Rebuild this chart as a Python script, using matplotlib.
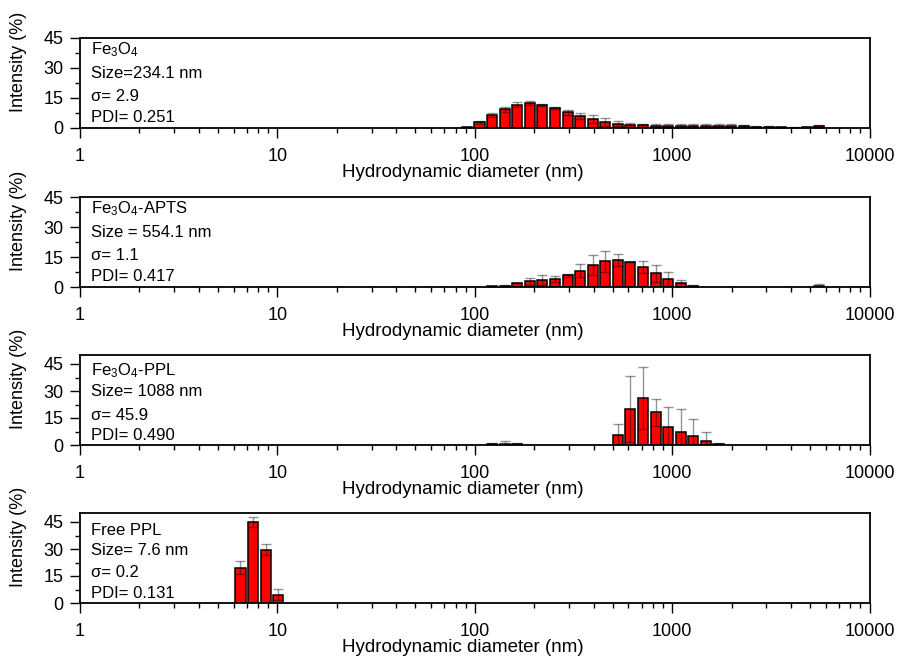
import numpy as np
import matplotlib
matplotlib.use("Agg")
import matplotlib.pyplot as plt
from matplotlib.ticker import LogLocator, NullFormatter, MultipleLocator

plt.rcParams['font.family'] = ['Liberation Sans', 'DejaVu Sans']
plt.rcParams['mathtext.fontset'] = 'custom'
plt.rcParams['mathtext.rm'] = 'Liberation Sans'
plt.rcParams['mathtext.it'] = 'Liberation Sans:italic'

# size classes (nm), with intensity (%) and error
fe3o4_size = [91.28, 105.7, 122.4, 141.8, 164.2, 190.1, 220.2, 255.0, 295.3, 342.0,
              396.1, 458.7, 531.2, 615.1, 712.4, 825.0, 955.4, 1106, 1281, 1484,
              1718, 1990, 2305, 2669, 3091, 3580, 4145, 4801, 5560]
fe3o4_int = [0.3, 2.9, 6.3, 9.3, 11.7, 12.3, 11.5, 10.0, 7.8, 6.0,
             4.3, 2.8, 2.2, 1.5, 1.3, 1.1, 1.0, 1.0, 1.0, 1.0,
             1.0, 1.0, 0.8, 0.6, 0.5, 0.3, 0.2, 0.4, 0.8]
fe3o4_err = [0.2, 0.8, 1.0, 1.4, 1.1, 1.0, 0.7, 0.7, 1.4, 1.7,
             2.0, 2.0, 1.3, 1.2, 0.9, 0.9, 0.8, 0.8, 0.8, 0.8,
             0.8, 0.8, 0.8, 0.6, 0.4, 0.2, 0.1, 0.1, 0.8]

apts_size = [122.4, 141.8, 164.2, 190.1, 220.2, 255.0, 295.3, 342.0, 396.1, 458.7,
             531.2, 615.1, 712.4, 825.0, 955.4, 1106, 1281, 5560]
apts_int = [0.3, 0.5, 2.0, 2.8, 3.3, 4.2, 5.8, 8.2, 11.0, 12.8,
            13.7, 12.5, 10.0, 6.8, 4.0, 1.8, 0.5, 0.3]
apts_err = [0.3, 0.4, 0.2, 1.9, 2.5, 1.5, 0.9, 3.3, 5.0, 5.2,
            3.0, 0.2, 2.8, 4.4, 3.7, 1.9, 0.3, 1.2]

ppl_size = [122.4, 141.8, 164.2, 531.2, 615.1, 712.4, 825.0, 955.4, 1106, 1281,
            1484, 1718]
ppl_int = [0.4, 0.7, 0.4, 5.6, 20.2, 26.0, 18.3, 10.1, 7.3, 5.2,
           2.4, 0.5]
ppl_err = [0.9, 1.7, 0.9, 6.2, 18.4, 17.1, 7.5, 10.8, 12.5, 9.3,
           5.1, 0.8]

free_size = [6.503, 7.531, 8.721, 10.10]
free_int = [19.7, 45.0, 29.6, 4.7]
free_err = [3.4, 3.0, 3.2, 3.3]

panel_text = [
    [r'Fe$_3$O$_4$', 'Size=234.1 nm', 'σ= 2.9', 'PDI= 0.251'],
    [r'Fe$_3$O$_4$-APTS', 'Size = 554.1 nm', 'σ= 1.1', 'PDI= 0.417'],
    [r'Fe$_3$O$_4$-PPL', 'Size= 1088 nm', 'σ= 45.9', 'PDI= 0.490'],
    ['Free PPL', 'Size= 7.6 nm', 'σ= 0.2', 'PDI= 0.131'],
]
y_max = [45, 45, 50, 50]
x_ticks = [1, 10, 100, 1000, 10000]
x_ticklabels = ['1', '10', '100', '1000', '10000']
y_ticks = [0, 15, 30, 45]

data = [(fe3o4_size, fe3o4_int, fe3o4_err),
        (apts_size, apts_int, apts_err),
        (ppl_size, ppl_int, ppl_err),
        (free_size, free_int, free_err)]

fig = plt.figure(figsize=(8.98, 6.58), dpi=100)
W, H = 898.0, 658.0
bottoms_px = [128, 287, 445, 603]
text_y = [[0.87, 0.61, 0.35, 0.12], [0.87, 0.61, 0.35, 0.12],
          [0.83, 0.59, 0.33, 0.10], [0.81, 0.58, 0.34, 0.10]]

half = 10 ** (0.0637 * 0.4)  # bar half-width in log space

for i, (size, inten, err) in enumerate(data):
    ax = fig.add_axes([80 / W, 1 - bottoms_px[i] / H, 789.5 / W, 90 / H])
    size = np.array(size)
    left = size / half
    right = size * half
    ax.bar(left, inten, width=right - left, align='edge', color='#ff0000',
           edgecolor='black', linewidth=1.1, zorder=2)
    eb = ax.errorbar(size, inten, yerr=err, fmt='none', ecolor=(0, 0, 0, 0.42),
                     elinewidth=1.0, capsize=3.8, capthick=1.0, zorder=3)
    for cl in eb[1]:
        cl.set_color((0, 0, 0, 0.7))

    ax.set_xscale('log')
    ax.set_xlim(1, 10000)
    ax.set_ylim(0, y_max[i])
    ax.set_xticks(x_ticks)
    ax.set_xticklabels(x_ticklabels)
    ax.xaxis.set_minor_locator(LogLocator(base=10, subs=np.arange(2, 10)))
    ax.xaxis.set_minor_formatter(NullFormatter())
    ax.set_yticks(y_ticks)
    ax.yaxis.set_minor_locator(MultipleLocator(7.5))
    ax.tick_params(which='major', direction='out', length=7, width=1.0,
                   labelsize=13)
    ax.tick_params(axis='x', which='major', pad=7.5)
    ax.tick_params(axis='y', which='major', pad=5)
    ax.tick_params(which='minor', direction='out', length=3.5, width=1.0)
    for sp in ax.spines.values():
        sp.set_linewidth(1.3)

    ax.set_xlabel('Hydrodynamic diameter (nm)', fontsize=13.5)
    ax.xaxis.label.set_va('center')
    ax.xaxis.set_label_coords(0.4845, -0.49)
    ax.set_ylabel('Intensity (%)', fontsize=13)
    ax.yaxis.label.set_va('center')
    ax.yaxis.set_label_coords(-0.0785, 0.74)

    for line, yy in zip(panel_text[i], text_y[i]):
        ax.text(0.014, yy, line, transform=ax.transAxes, fontsize=12,
                ha='left', va='center')

fig.savefig('out.png', dpi=100)
